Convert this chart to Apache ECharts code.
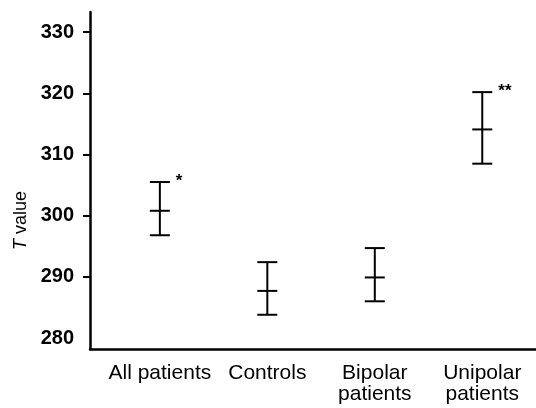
<!DOCTYPE html>
<html>
<head>
<meta charset="utf-8">
<script src="https://cdn.jsdelivr.net/npm/echarts@6/dist/echarts.min.js"></script>
<style>
html,body{margin:0;padding:0;background:#fff;}
#chart{width:536px;height:408px;}
</style>
</head>
<body>
<div id="chart"></div>
<script>
var categories = ['All patients', 'Controls', 'Bipolar\npatients', 'Unipolar\npatients'];
var means = [300.8, 287.7, 289.9, 314.1];
var lowers = [296.8, 283.8, 286.0, 308.5];
var uppers = [305.5, 292.4, 294.7, 320.2];
var significance = ['*', '', '', '**'];
var yTickLabels = [280, 290, 300, 310, 320, 330];
var yTickMarks = [290, 300, 310, 320, 330];

var FONT = '"Liberation Sans", Arial, Helvetica, sans-serif';
var data = categories.map(function (c, i) {
  return [i, means[i], lowers[i], uppers[i]];
});

var chart = echarts.init(document.getElementById('chart'), null, {renderer: 'canvas'});
chart.setOption({
  animation: false,
  backgroundColor: '#ffffff',
  grid: {left: 90, right: 0, top: 12, bottom: 59},
  xAxis: {
    type: 'value',
    min: -0.65,
    max: 3.5,
    splitLine: {show: false},
    axisLine: {show: true, onZero: false, lineStyle: {color: '#000', width: 2.5}},
    axisTick: {show: false},
    axisLabel: {
      customValues: [0, 1, 2, 3],
      formatter: function (v) { return categories[Math.round(v)]; },
      color: '#000',
      fontFamily: FONT,
      fontSize: 21,
      lineHeight: 21,
      margin: 14,
      align: 'center'
    }
  },
  yAxis: {
    type: 'value',
    min: 278.2,
    max: 333.3,
    name: '{i|T} value',
    nameLocation: 'middle',
    nameGap: 58,
    nameTextStyle: {
      color: '#000',
      fontFamily: FONT,
      fontSize: 18,
      padding: [0, 80, 0, 0],
      rich: {i: {fontStyle: 'italic', fontFamily: FONT, fontSize: 18, color: '#000'}}
    },
    splitLine: {show: false},
    axisLine: {show: true, onZero: false, lineStyle: {color: '#000', width: 2.5}},
    axisTick: {show: true, customValues: yTickMarks, length: 7, lineStyle: {color: '#000', width: 2}},
    axisLabel: {
      customValues: yTickLabels,
      color: '#000',
      fontFamily: FONT,
      fontWeight: 'bold',
      fontSize: 20,
      margin: 16
    }
  },
  series: [{
    type: 'custom',
    clip: false,
    data: data,
    renderItem: function (params, api) {
      var x = api.value(0);
      var pm = api.coord([x, api.value(1)]);
      var pl = api.coord([x, api.value(2)]);
      var pu = api.coord([x, api.value(3)]);
      var hw = 10;
      var st = {stroke: '#000', lineWidth: 2};
      var children = [
        {type: 'line', shape: {x1: pl[0], y1: pl[1], x2: pu[0], y2: pu[1]}, style: st},
        {type: 'line', shape: {x1: pu[0] - hw, y1: pu[1], x2: pu[0] + hw, y2: pu[1]}, style: st},
        {type: 'line', shape: {x1: pl[0] - hw, y1: pl[1], x2: pl[0] + hw, y2: pl[1]}, style: st},
        {type: 'line', shape: {x1: pm[0] - hw, y1: pm[1], x2: pm[0] + hw, y2: pm[1]}, style: st}
      ];
      var mark = significance[params.dataIndex];
      if (mark) {
        children.push({
          type: 'text',
          style: {
            text: mark,
            x: pu[0] + 16,
            y: pu[1] - 1,
            fill: '#000',
            font: 'bold 17px ' + FONT,
            verticalAlign: 'middle',
            align: 'left'
          }
        });
      }
      return {type: 'group', children: children};
    }
  }]
});
</script>
</body>
</html>
